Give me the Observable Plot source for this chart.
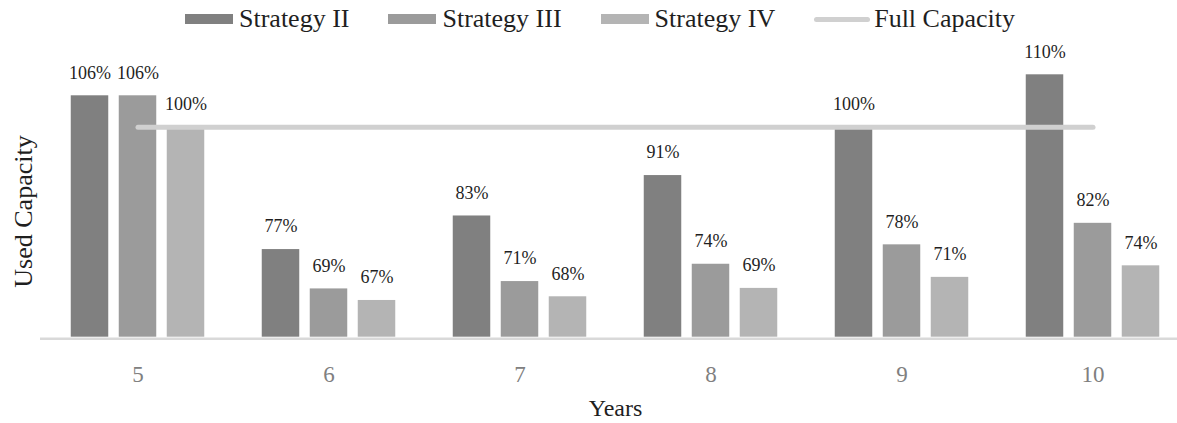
<!DOCTYPE html>
<html><head><meta charset="utf-8">
<script src="https://cdn.jsdelivr.net/npm/d3@7"></script>
<script src="https://cdn.jsdelivr.net/npm/@observablehq/plot@0.6"></script>
<style>
body{margin:0;background:#fff;font-family:"Liberation Serif",serif;overflow:hidden}
#legend{height:38px;display:flex;align-items:center;padding-left:185px;box-sizing:border-box;font-size:26px;color:#1f1f1f;white-space:nowrap}
.item{display:flex;align-items:center;margin-right:39px}
.sw{width:48px;height:10px;margin-right:6px}
.ln{width:56px;height:5px;border-radius:3px;margin-right:4px}
</style></head><body>
<div id="legend"></div>
<div id="chart"></div>
<script>
const years = [5, 6, 7, 8, 9, 10];
const seriesNames = ["Strategy II", "Strategy III", "Strategy IV"];
const strategyII  = [1.06, 0.767, 0.831, 0.908, 1.00, 1.10];
const strategyIII = [1.06, 0.692, 0.706, 0.739, 0.776, 0.817];
const strategyIV  = [1.00, 0.670, 0.677, 0.693, 0.714, 0.736];
const fullCapacity = 1.0;
const lineName = "Full Capacity";
const xTitle = "Years";
const yTitle = "Used Capacity";

const colors = ["#808080", "#9b9b9b", "#b4b4b4"];
const lineColor = "#d0d0d0";
const textColor = "#1f1f1f";

const seriesValues = [strategyII, strategyIII, strategyIV];
const rows = years.flatMap((yr, i) => seriesNames.map((s, k) => ({year: yr, series: s, value: seriesValues[k][i]})));
const capacityRows = years.map(yr => ({year: yr, value: fullCapacity}));

// legend
const legend = document.getElementById("legend");
seriesNames.forEach((s, k) => {
  const it = document.createElement("div"); it.className = "item";
  it.innerHTML = `<span class="sw" style="background:${colors[k]}"></span><span>${s}</span>`;
  legend.appendChild(it);
});
{
  const it = document.createElement("div"); it.className = "item";
  it.innerHTML = `<span class="ln" style="background:${lineColor}"></span><span>${lineName}</span>`;
  legend.appendChild(it);
}

const W = 1177, H = 385, mT = 36.3, mB = 86.3, mL = 40;
const xRange = [40, 1189];
const band = (xRange[1] - xRange[0]) / years.length;
const barW = 38, barStep = 48;
const inset = (band - barW) / 2;

const marks = [];
seriesNames.forEach((s, k) => {
  marks.push(Plot.barY(rows.filter(r => r.series === s), {
    x: "year", y1: 0.6, y2: "value", fill: colors[k],
    dx: (k - 1) * barStep, insetLeft: inset, insetRight: inset
  }));
});
marks.push(Plot.ruleY([0.6], {stroke: "#d9d9d9", strokeWidth: 2.6, dy: 1.5}));
marks.push(Plot.lineY(capacityRows, {x: "year", y: "value", stroke: lineColor, strokeWidth: 5, strokeLinecap: "round"}));
seriesNames.forEach((s, k) => {
  marks.push(Plot.text(rows.filter(r => r.series === s), {
    x: "year", y: "value", text: d => Math.round(d.value * 100) + "%",
    dx: (k - 1) * barStep, dy: -23, lineAnchor: "middle", fontSize: 18, fill: textColor
  }));
});
marks.push(Plot.axisX({tickSize: 0, tickPadding: 28, fontSize: 23, color: "#808080", label: null}));
marks.push(Plot.text([xTitle], {text: d => d, frameAnchor: "bottom", lineAnchor: "bottom", dy: 78.5, dx: 6.5, fontSize: 24, fill: textColor}));
marks.push(Plot.text([yTitle], {text: d => d, frameAnchor: "left", rotate: -90, dx: -16.7, dy: 5.5, lineAnchor: "middle", textAnchor: "middle", fontSize: 26, fill: textColor}));

const chart = Plot.plot({
  width: W, height: H,
  marginTop: mT, marginBottom: mB, marginLeft: mL, marginRight: 0,
  style: {fontFamily: "Liberation Serif, serif", background: "#fff"},
  x: {type: "band", domain: years, range: xRange, padding: 0, axis: null},
  y: {domain: [0.6, 1.1], axis: null},
  marks
});
document.getElementById("chart").appendChild(chart);
</script>
</body></html>
